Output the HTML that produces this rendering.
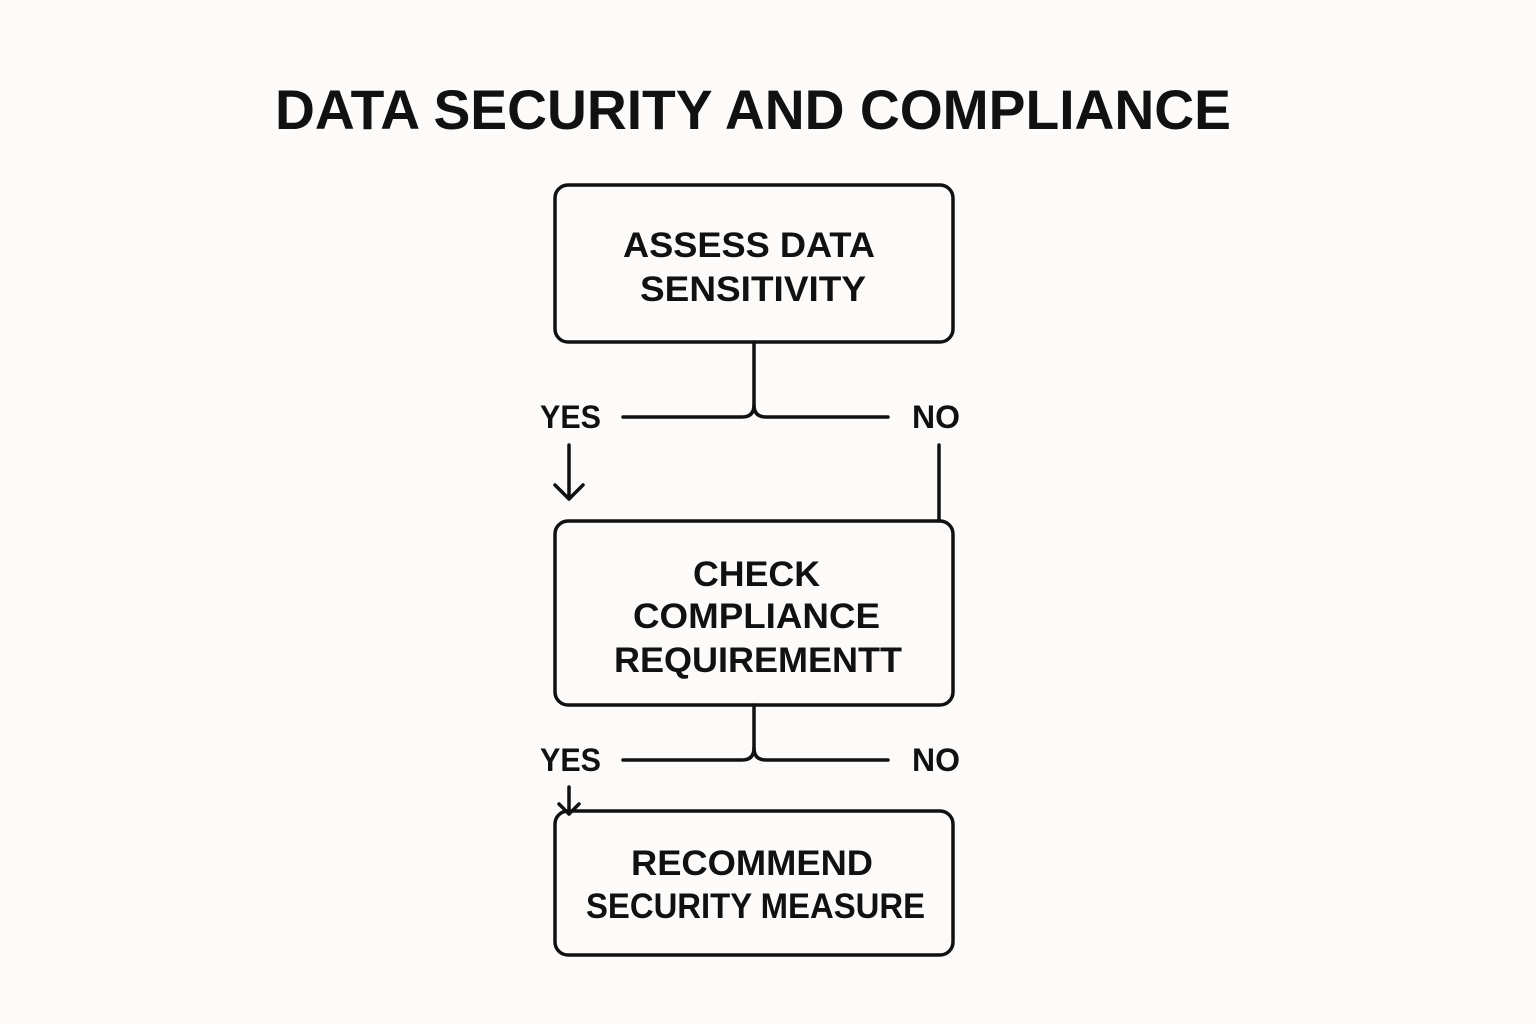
<!DOCTYPE html>
<html><head><meta charset="utf-8"><style>
html,body{margin:0;padding:0;background:#fcfbf9;}
svg{display:block}
text{font-family:"Liberation Sans",Arial,sans-serif;font-weight:bold;fill:#111;}
</style></head><body>
<svg width="1536" height="1024" viewBox="0 0 1536 1024" xmlns="http://www.w3.org/2000/svg">
<rect width="1536" height="1024" fill="#fcfbf9"/>
<text x="275" y="129" font-size="56" textLength="956" lengthAdjust="spacingAndGlyphs">DATA SECURITY AND COMPLIANCE</text>
<g fill="none" stroke="#111" stroke-width="3.5" stroke-linecap="round" stroke-linejoin="round">
<rect x="555" y="185" width="398" height="157" rx="13"/>
<rect x="555" y="521" width="398" height="184" rx="13"/>
<rect x="555" y="811" width="398" height="144" rx="13"/>
<path d="M754 342 V405 Q754 417 742 417 H623"/>
<path d="M754 405 Q754 417 766 417 H888"/>
<path d="M569 445 V499 M555 485 L569 499 L583 485"/>
<path d="M939 445 V521"/>
<path d="M754 705 V748 Q754 760 742 760 H623"/>
<path d="M754 748 Q754 760 766 760 H888"/>
<path d="M569 787 V814 M559 804 L569 814 L579 804"/>
</g>
<g font-size="32">
<text x="540" y="428" textLength="61" lengthAdjust="spacingAndGlyphs">YES</text>
<text x="912" y="428" textLength="48" lengthAdjust="spacingAndGlyphs">NO</text>
<text x="540" y="771" textLength="61" lengthAdjust="spacingAndGlyphs">YES</text>
<text x="912" y="771" textLength="48" lengthAdjust="spacingAndGlyphs">NO</text>
</g>
<g font-size="35">
<text x="623" y="257" textLength="252" lengthAdjust="spacingAndGlyphs">ASSESS DATA</text>
<text x="640" y="301" textLength="226" lengthAdjust="spacingAndGlyphs">SENSITIVITY</text>
<text x="693" y="586" textLength="127" lengthAdjust="spacingAndGlyphs">CHECK</text>
<text x="633" y="628" textLength="247" lengthAdjust="spacingAndGlyphs">COMPLIANCE</text>
<text x="614" y="672" textLength="288" lengthAdjust="spacingAndGlyphs">REQUIREMENTT</text>
<text x="631" y="875" textLength="242" lengthAdjust="spacingAndGlyphs">RECOMMEND</text>
<text x="586" y="918" textLength="339" lengthAdjust="spacingAndGlyphs">SECURITY MEASURE</text>
</g>
</svg>
</body></html>
